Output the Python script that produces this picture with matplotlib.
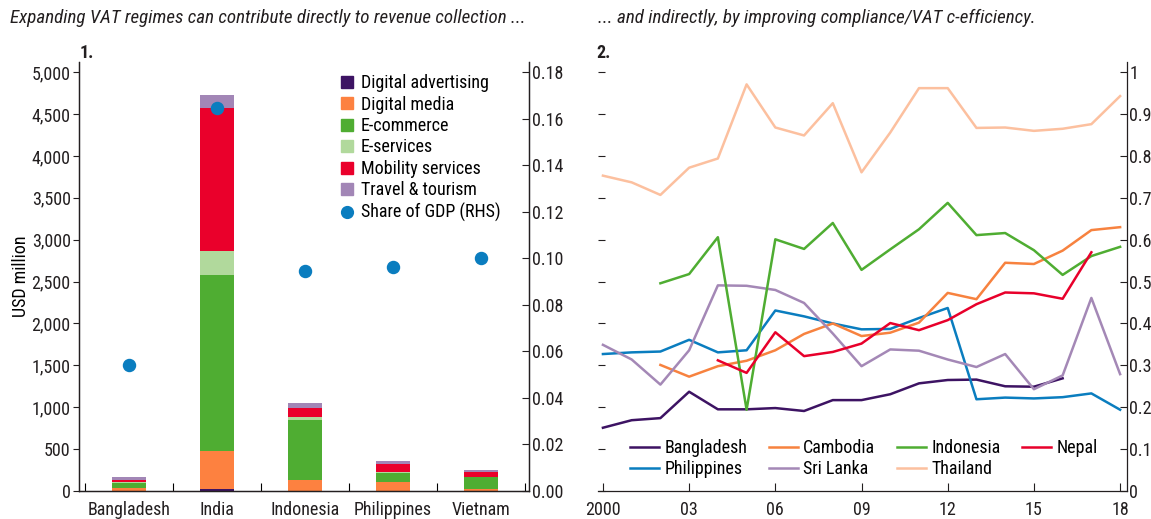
import numpy as np
import matplotlib

matplotlib.use("Agg")
import matplotlib.pyplot as plt
from matplotlib.patches import Patch
from matplotlib.lines import Line2D

plt.rcParams["font.family"] = ["Roboto Condensed", "Liberation Sans Narrow",
                               "Liberation Sans", "DejaVu Sans"]
plt.rcParams["font.size"] = 13

# panel 1: VAT revenue potential by sector (USD million) and share of GDP
countries = ["Bangladesh", "India", "Indonesia", "Philippines", "Vietnam"]
sectors = ["Digital advertising", "Digital media", "E-commerce", "E-services",
           "Mobility services", "Travel & tourism"]
digital_advertising = [2, 20, 5, 3, 2]
digital_media = [28, 463, 132, 110, 20]
e_commerce = [71, 2097, 715, 105, 145]
e_services = [4, 287, 28, 8, 5]
mobility_services = [32, 1704, 115, 92, 60]
travel_tourism = [28, 155, 60, 36, 24]
share_gdp = [0.054, 0.1645, 0.0944, 0.0961, 0.1001]

# panel 2: VAT c-efficiency
years = list(range(2000, 2019))
bangladesh = [0.151, 0.169, 0.174, 0.237, 0.195, 0.195, 0.198, 0.191, 0.217, 0.217,
              0.231, 0.257, 0.265, 0.266, 0.250, 0.249, 0.269, None, None]
cambodia = [None, None, 0.301, 0.273, 0.298, 0.311, 0.336, 0.375, 0.400, 0.370,
            0.378, 0.402, 0.473, 0.458, 0.545, 0.542, 0.574, 0.623, 0.630]
indonesia = [None, None, 0.496, 0.518, 0.606, 0.194, 0.601, 0.578, 0.640, 0.528,
             0.577, 0.625, 0.688, 0.611, 0.616, 0.575, 0.516, 0.561, 0.583]
nepal = [None, None, None, None, 0.312, 0.282, 0.379, 0.322, 0.332, 0.352,
         0.401, 0.384, 0.408, 0.446, 0.474, 0.472, 0.459, 0.570, None]
philippines = [0.327, 0.331, 0.333, 0.361, 0.331, 0.336, 0.431, 0.417, 0.400, 0.386,
               0.387, 0.413, 0.437, 0.219, 0.223, 0.221, 0.224, 0.233, 0.194]
sri_lanka = [0.349, 0.314, 0.254, 0.336, 0.491, 0.490, 0.480, 0.449, 0.376, 0.298,
             0.338, 0.335, 0.314, 0.296, 0.327, 0.243, 0.276, 0.461, 0.279]
thailand = [0.753, 0.737, 0.707, 0.772, 0.794, 0.971, 0.868, 0.849, 0.926, 0.761,
            0.856, 0.962, 0.962, 0.867, 0.868, 0.860, 0.865, 0.876, 0.943]
year_ticks = [2000, 2003, 2006, 2009, 2012, 2015, 2018]
year_labels = ["2000", "03", "06", "09", "12", "15", "18"]

bar_colors = ["#3d1363", "#fd8140", "#4fad32", "#b1d99c", "#ea002b", "#a286b6"]
dot_color = "#0a7dbf"
line_colors = {"Bangladesh": "#3d1363", "Cambodia": "#f7823f", "Indonesia": "#4fad32",
               "Nepal": "#e8002b", "Philippines": "#0a7dbf", "Sri Lanka": "#a488b6",
               "Thailand": "#fcc09f"}
text_color = "#231f20"
fs = 13

fig = plt.figure(figsize=(11.51, 5.19), dpi=100)

# ---------- panel 1 ----------
ax1 = fig.add_axes([0.0686, 0.054, 0.391, 0.827])
x = np.arange(len(countries))
bottom = np.zeros(len(countries))
series = [digital_advertising, digital_media, e_commerce, e_services,
          mobility_services, travel_tourism]
for vals, col, name in zip(series, bar_colors, sectors):
    ax1.bar(x, vals, 0.39, bottom=bottom, color=col, label=name, zorder=2)
    bottom += np.array(vals)

ax1.set_xlim(-0.57, 4.55)
ax1.set_ylim(0, 5125)
ax1.set_yticks(np.arange(0, 5001, 500))
ax1.set_yticklabels([f"{v:,}" for v in range(0, 5001, 500)])
ax1.set_xticks(x)
ax1.set_xticklabels(countries)
ax1.tick_params(axis="x", length=0, pad=7)
ax1.set_xticks(np.arange(-0.5, 4.6, 1), minor=True)
ax1.tick_params(axis="x", which="minor", direction="in", length=6, width=0.8)
ax1.tick_params(axis="y", direction="out", length=4, width=0.8, pad=2)
ax1.set_ylabel("USD million", labelpad=1, fontsize=fs)
ax1.spines["top"].set_visible(False)

ax1r = ax1.twinx()
ax1r.scatter(x, share_gdp, s=75, color=dot_color, zorder=3, label="Share of GDP (RHS)")
ax1r.set_ylim(0, 0.1845)
ax1r.set_yticks(np.arange(0, 0.181, 0.02))
ax1r.set_yticklabels([f"{v:.2f}" for v in np.arange(0, 0.181, 0.02)])
ax1r.tick_params(axis="y", direction="in", length=5, width=0.8, pad=2)
ax1r.spines["top"].set_visible(False)

handles = [Patch(color=c, label=n) for c, n in zip(bar_colors, sectors)]
handles.append(Line2D([], [], marker="o", linestyle="none", color=dot_color,
                      markersize=8.5, label="Share of GDP (RHS)"))
ax1.legend(handles=handles, loc="upper left", bbox_to_anchor=(0.582, 0.971),
           frameon=False, handlelength=0.65, handleheight=0.65, handletextpad=0.45,
           labelspacing=0.19, borderaxespad=0, borderpad=0, fontsize=fs)

# ---------- panel 2 ----------
ax2 = fig.add_axes([0.5196, 0.054, 0.4593, 0.827])
order = [("Bangladesh", bangladesh), ("Philippines", philippines),
         ("Cambodia", cambodia), ("Sri Lanka", sri_lanka),
         ("Indonesia", indonesia), ("Thailand", thailand), ("Nepal", nepal)]
for name, vals in order:
    yv = np.array([np.nan if v is None else v for v in vals], dtype=float)
    ax2.plot(years, yv, color=line_colors[name], lw=1.8, label=name)

ax2.set_xlim(1999.83, 2018.23)
ax2.set_ylim(0, 1.025)
ax2.set_xticks(year_ticks)
ax2.set_xticklabels(year_labels)
ax2.tick_params(axis="x", direction="in", length=6, width=0.8, pad=7)
ax2.set_yticks(np.arange(0, 1.01, 0.1))
ax2.set_yticklabels(["0"] + [f"{v:.1f}" for v in np.arange(0.1, 0.95, 0.1)] + ["1"])
ax2.yaxis.tick_right()
ax2.tick_params(axis="y", which="both", left=True, right=True, labelleft=False,
                labelright=True, direction="in", length=5, width=0.8, pad=2)
ax2.spines["top"].set_visible(False)
ax2.spines["left"].set_visible(False)
ax2.legend(loc="upper left", bbox_to_anchor=(0.0605, 0.121), ncol=4, frameon=False,
           handlelength=1.6, handletextpad=0.3, columnspacing=1.2, labelspacing=0.17,
           borderaxespad=0, borderpad=0, fontsize=fs)

for ax in (ax1, ax1r, ax2):
    for s in ax.spines.values():
        s.set_color("#231f20")
        s.set_linewidth(0.9)
    ax.tick_params(colors=text_color, labelcolor=text_color, labelsize=fs)

fig.text(0.0087, 0.965, "Expanding VAT regimes can contribute directly to revenue collection ...",
         style="italic", fontsize=13.7, color=text_color, va="center")
fig.text(0.5196, 0.965, "... and indirectly, by improving compliance/VAT c-efficiency.",
         style="italic", fontsize=13.7, color=text_color, va="center")
fig.text(0.069, 0.897, "1.", fontweight="bold", fontsize=fs, color=text_color, va="center")
fig.text(0.518, 0.897, "2.", fontweight="bold", fontsize=fs, color=text_color, va="center")

fig.savefig("out.png", dpi=100)
